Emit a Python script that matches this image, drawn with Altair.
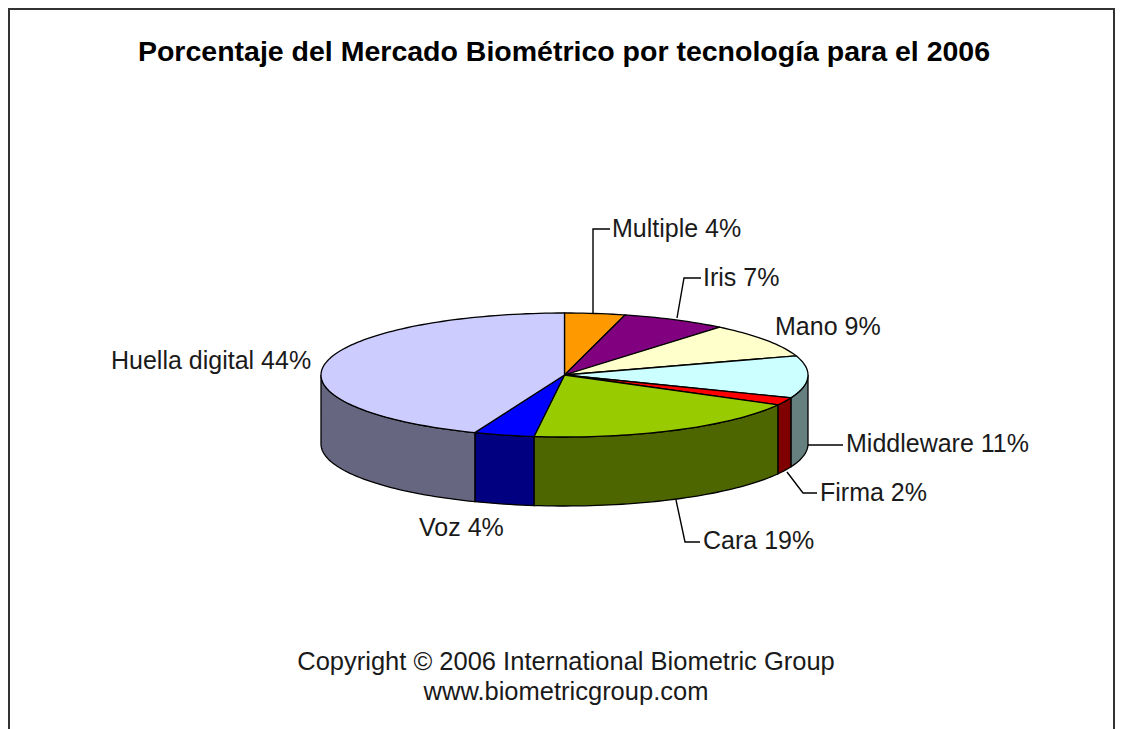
import math
import altair as alt
import pandas as pd

# Slice data, clockwise from 12 o'clock
names = ["Multiple", "Iris", "Mano", "Middleware", "Firma", "Cara", "Voz", "Huella digital"]
shares = [4, 7, 9, 11, 2, 19, 4, 44]
top_colors = ["#FF9900", "#800080", "#FFFFCC", "#CCFFFF", "#FF0000", "#99CC00", "#0000FF", "#CCCCFF"]
side_colors = ["#804D00", "#400040", "#808066", "#668080", "#800000", "#4D6600", "#000080", "#666680"]

title_text = "Porcentaje del Mercado Biométrico por tecnología para el 2006"
footer_lines = ["Copyright © 2006 International Biometric Group", "www.biometricgroup.com"]

label_texts = [f"{n} {s}%" for n, s in zip(names, shares)]
label_x = [612, 703, 775, 846, 820, 703, 419, 111]
label_y = [229, 278, 327, 444, 493, 541, 528, 361]

leader_x = [[593, 593, 610], [677, 684, 701], [808, 843], [787, 803, 817], [676, 685, 700]]
leader_y = [[313, 229, 229], [318, 278, 278], [445, 445], [472, 493, 493], [500, 542, 542]]

CX, CY, RX, RY, DEPTH = 564.5, 375, 243.5, 62, 69
OX, OY = 8, 8
W, H = 1107, 721


def pt(t_deg, dy=0):
    t = math.radians(t_deg)
    return [CX + RX * math.sin(t), CY - RY * math.cos(t) + dy]


def arc(a, b, dy=0):
    n = max(2, int(abs(b - a) / 1.5) + 1)
    return [pt(a + (b - a) * i / n, dy) for i in range(n + 1)]


def feature(ring, color, order):
    ring = ring + [ring[0]]
    return {"type": "Feature", "properties": {"c": color, "o": order},
            "geometry": {"type": "Polygon", "coordinates": [ring]}}


walls, tops = [], []
cum = 0
for s, tc, sc in zip(shares, top_colors, side_colors):
    a, b = cum * 3.6, (cum + s) * 3.6
    cum += s
    lo, hi = max(a, 90), min(b, 270)
    if lo < hi:
        walls.append(feature(arc(lo, hi) + arc(hi, lo, DEPTH), sc, 0))
    tops.append(feature([[CX, CY]] + arc(a, b), tc, 1))

xs = alt.X("x:Q", scale=alt.Scale(domain=[OX, OX + W]), axis=None)
ys = alt.Y("y:Q", scale=alt.Scale(domain=[OY + H, OY]), axis=None)

shapes = alt.Chart(alt.Data(values=walls + tops)).mark_geoshape(
    stroke="black", strokeWidth=1.3
).encode(
    color=alt.Color("properties.c:N", scale=None, legend=None)
).project(type="identity", scale=1, translate=[-OX, -OY])

leaders = alt.Chart(pd.DataFrame([
    {"g": i, "k": j, "x": x, "y": y}
    for i, (lx, ly) in enumerate(zip(leader_x, leader_y))
    for j, (x, y) in enumerate(zip(lx, ly))
])).mark_line(color="black", strokeWidth=1.4).encode(
    x=xs, y=ys, detail="g:N", order="k:Q"
)

border = alt.Chart(pd.DataFrame({
    "g": [0, 0, 0, 0],
    "k": [0, 1, 2, 3],
    "x": [9, 9, 1114, 1114],
    "y": [729, 9, 9, 729],
})).mark_line(color="#333333", strokeWidth=2).encode(x=xs, y=ys, detail="g:N", order="k:Q")

labels = alt.Chart(pd.DataFrame({"t": label_texts, "x": label_x, "y": label_y})).mark_text(
    align="left", baseline="middle", font="Liberation Sans", fontSize=25, color="#1a1a1a"
).encode(x=xs, y=ys, text="t:N")

title = alt.Chart(pd.DataFrame({"t": [title_text], "x": [564], "y": [52]})).mark_text(
    align="center", baseline="middle", font="Liberation Sans", fontSize=28.5, fontWeight="bold", color="black"
).encode(x=xs, y=ys, text="t:N")

footer = alt.Chart(pd.DataFrame({"t": footer_lines, "x": [566, 566], "y": [662, 692]})).mark_text(
    align="center", baseline="middle", font="Liberation Sans", fontSize=25.5, color="#1a1a1a"
).encode(x=xs, y=ys, text="t:N")

chart = alt.layer(border, shapes, leaders, labels, title, footer).properties(
    width=W, height=H,
    padding={"left": 0, "top": 0, "right": 0, "bottom": 0},
    autosize=alt.AutoSizeParams(type="none"),
    background="white",
).configure_view(stroke=None)

chart.save("out.html", embed_options={"renderer": "svg", "actions": False})
